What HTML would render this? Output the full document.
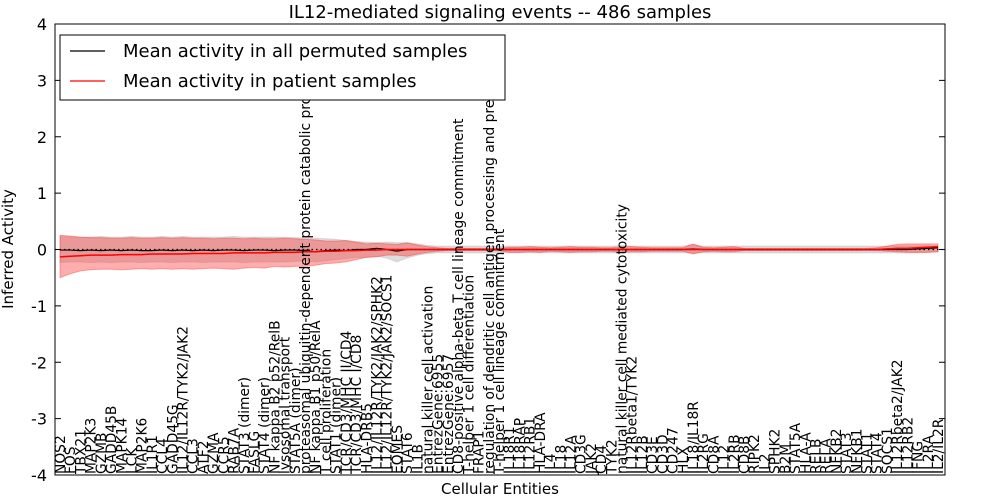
<!DOCTYPE html>
<html><head><meta charset="utf-8"><style>
body{margin:0;background:#fff}
svg{display:block;font-family:"DejaVu Sans","Liberation Sans",sans-serif}
</style></head><body>
<svg id="chart" width="1000" height="500">
<rect width="1000" height="500" fill="#fff"/>
<text x="500" y="18" text-anchor="middle" font-size="18">IL12-mediated signaling events -- 486 samples</text>
<g id="bands"></g>
<g id="lines"></g>
<g id="xlabels"></g>
<rect x="55" y="24" width="890" height="451" fill="none" stroke="#000" stroke-width="1"/>
<g id="yticks"></g>
<text x="500" y="494" text-anchor="middle" font-size="15">Cellular Entities</text>
<text transform="translate(13,249) rotate(-90)" text-anchor="middle" font-size="15">Inferred Activity</text>
<g>
<rect x="60" y="35" width="445" height="65" fill="#fff" stroke="#000" stroke-width="1"/>
<line x1="70" y1="51" x2="105" y2="51" stroke="#000" stroke-width="1.2"/>
<text x="123" y="57" font-size="18">Mean activity in all permuted samples</text>
<line x1="70" y1="81" x2="105" y2="81" stroke="#f00" stroke-width="1.2"/>
<text x="123" y="87" font-size="18">Mean activity in patient samples</text>
</g>
</svg>
<script>
const categories=["NOS2","FOS","TBX21","MAP2K3","GZMB","GADD45B","MAPK14","LCK","MAP2K6","IL1R1","CCL4","GADD45G","IL12/IL12R/TYK2/JAK2","CCL3","ATF2","GZMA","CCR5","RAB7A","STAT3 (dimer)","FASLG","STAT4 (dimer)","NF kappa B2 p52/RelB","lysosomal transport","STAT5A (dimer)","proteasomal ubiquitin-dependent protein catabolic pro","NF kappa B1 p50/RelA","T cell proliferation","STAT1 (dimer)","TCR/CD3/MHC II/CD4","TCR/CD3/MHC I/CD8","HLA-DRB5","IL12/IL12R/TYK2/JAK2/SPHK2","IL12/IL12R/TYK2/JAK2/SOCS1","EOMES","STAT6","IL1B","natural killer cell activation","EntrezGene:6955","EntrezGene:6957","CD8-positive alpha-beta T cell lineage commitment","T-helper 1 cell differentiation","FRAP1","regulation of dendritic cell antigen processing and pre","T-helper 1 cell lineage commitment","IL18R1","IL18RAP","IL12RB1","HLA-DRA","IL4","IL18","IL12A","CD3G","JAK2","CD4","TYK2","natural killer cell mediated cytotoxicity","IL12Rbeta1/TYK2","IL12B","CD3E","CD3D","CD247","HLX","IL18/IL18R","IL2RG","CD8A","IL12","IL2RB","CD8B","RIPK2","IL2","SPHK2","B2M","STAT5A","HLA-A","RELB","RELA","NFKB2","STAT3","NFKB1","STAT1","STAT4","SOCS1","IL12Rbeta2/JAK2","IL12RB2","IFNG","IL2RA","IL2/IL2R"];
const patientMean=[-0.13,-0.12,-0.11,-0.1,-0.1,-0.1,-0.09,-0.09,-0.09,-0.08,-0.08,-0.08,-0.08,-0.07,-0.07,-0.07,-0.07,-0.06,-0.06,-0.06,-0.06,-0.05,-0.05,-0.05,-0.04,-0.04,-0.03,-0.03,-0.02,-0.02,-0.01,-0.01,0,0,0,0,0,0,0,0,0,0,0,0,0,0,0,0,0,0,0,0,0,0,0,0,0,0,0,0,0,0,0,0,0,0,0,0,0,0,0,0,0,0,0,0,0,0,0,0,0,0.01,0.02,0.02,0.03,0.04,0.05];
const patientUpper=[0.25,0.24,0.22,0.21,0.21,0.2,0.2,0.21,0.2,0.2,0.21,0.2,0.21,0.2,0.2,0.19,0.2,0.2,0.19,0.2,0.19,0.19,0.2,0.19,0.18,0.17,0.15,0.15,0.16,0.13,0.1,0.11,0.1,0.09,0.12,0.08,0.05,0.03,0.02,0.02,0.02,0.02,0.02,0.02,0.04,0.04,0.05,0.04,0.03,0.04,0.05,0.04,0.04,0.03,0.03,0.05,0.05,0.04,0.03,0.03,0.03,0.03,0.1,0.04,0.03,0.04,0.05,0.02,0.02,0.02,0.02,0.02,0.02,0.02,0.02,0.02,0.02,0.02,0.02,0.02,0.03,0.06,0.09,0.1,0.1,0.1,0.1];
const patientLower=[-0.5,-0.43,-0.38,-0.36,-0.35,-0.35,-0.36,-0.35,-0.34,-0.35,-0.34,-0.35,-0.34,-0.35,-0.34,-0.33,-0.34,-0.35,-0.33,-0.32,-0.33,-0.3,-0.31,-0.3,-0.3,-0.28,-0.25,-0.24,-0.22,-0.18,-0.14,-0.13,-0.1,-0.1,-0.12,-0.08,-0.05,-0.03,-0.02,-0.02,-0.02,-0.02,-0.02,-0.02,-0.05,-0.05,-0.04,-0.05,-0.03,-0.04,-0.05,-0.04,-0.04,-0.03,-0.03,-0.05,-0.04,-0.04,-0.03,-0.03,-0.03,-0.03,-0.08,-0.04,-0.03,-0.04,-0.04,-0.02,-0.02,-0.02,-0.02,-0.02,-0.02,-0.02,-0.02,-0.02,-0.02,-0.02,-0.02,-0.02,-0.02,-0.03,-0.04,-0.05,-0.05,-0.05,-0.04];
const permMean=[-0.01,-0.01,-0.02,-0.01,-0.02,-0.01,-0.02,-0.01,-0.02,-0.02,-0.01,-0.02,-0.01,-0.02,-0.01,-0.02,-0.01,-0.01,-0.02,-0.01,-0.01,-0.02,-0.01,-0.01,-0.02,-0.04,-0.02,-0.01,-0.02,0,0,0.02,0,-0.03,0,0,0,0,0,0,0,0,0,0,0,0,0,0,0,0,0,0,0,0,0,0,0,0,0,0,0,0,0.01,0,0,0,0,0,0,0,0,0,0,0,0,0,0,0,0,0,0,0,0,0,0.01,0.02,0.03];
const permUpper=[0.23,0.22,0.22,0.22,0.23,0.22,0.22,0.23,0.22,0.22,0.23,0.22,0.23,0.22,0.22,0.22,0.22,0.23,0.22,0.22,0.22,0.22,0.22,0.21,0.2,0.2,0.19,0.18,0.16,0.14,0.13,0.12,0.13,0.12,0.12,0.1,0.07,0.06,0.06,0.06,0.06,0.06,0.06,0.06,0.06,0.06,0.06,0.06,0.06,0.06,0.06,0.06,0.06,0.06,0.06,0.07,0.06,0.06,0.06,0.06,0.06,0.06,0.08,0.06,0.06,0.06,0.06,0.06,0.06,0.06,0.06,0.06,0.06,0.06,0.06,0.06,0.06,0.06,0.06,0.06,0.06,0.06,0.06,0.06,0.06,0.06,0.06];
const permLower=[-0.23,-0.22,-0.22,-0.23,-0.22,-0.23,-0.22,-0.22,-0.23,-0.22,-0.22,-0.23,-0.22,-0.22,-0.23,-0.22,-0.22,-0.22,-0.23,-0.22,-0.22,-0.22,-0.22,-0.21,-0.2,-0.22,-0.2,-0.18,-0.16,-0.14,-0.14,-0.12,-0.15,-0.22,-0.15,-0.1,-0.07,-0.06,-0.06,-0.06,-0.06,-0.06,-0.06,-0.06,-0.06,-0.06,-0.06,-0.06,-0.06,-0.06,-0.06,-0.06,-0.06,-0.06,-0.06,-0.06,-0.06,-0.06,-0.06,-0.06,-0.06,-0.06,-0.06,-0.06,-0.06,-0.06,-0.06,-0.06,-0.06,-0.06,-0.06,-0.06,-0.06,-0.06,-0.06,-0.06,-0.06,-0.06,-0.06,-0.06,-0.06,-0.06,-0.06,-0.06,-0.06,-0.05,-0.04];
const yTicks=[-4,-3,-2,-1,0,1,2,3,4];

const NS="http://www.w3.org/2000/svg";
const X0=60,X1=938,YT=24,YB=475,YMIN=-4,YMAX=4;
const xs=i=>X0+i*(X1-X0)/(categories.length-1);
const ys=v=>YB-(v-YMIN)/(YMAX-YMIN)*(YB-YT);
function mk(tag,attrs,parent){const e=document.createElementNS(NS,tag);for(const k in attrs)e.setAttribute(k,attrs[k]);parent.appendChild(e);return e;}
function band(up,lo){let d="M"+up.map((v,i)=>xs(i)+","+ys(v)).join("L");for(let i=lo.length-1;i>=0;i--)d+="L"+xs(i)+","+ys(lo[i]);return d+"Z";}
function line(arr){return "M"+arr.map((v,i)=>xs(i)+","+ys(v)).join("L");}
const gb=document.getElementById("bands"),gl=document.getElementById("lines"),gx=document.getElementById("xlabels"),gy=document.getElementById("yticks");
let e=mk("path",{d:band(permUpper,permLower),fill:"#bbb","fill-opacity":"0.5",stroke:"#bbb","stroke-opacity":"0.5"},gb);


e=mk("path",{d:band(patientUpper,patientLower),fill:"#f33","fill-opacity":"0.4",stroke:"#f33","stroke-opacity":"0.4"},gb);


e=mk("line",{x1:55,x2:945,y1:ys(0),y2:ys(0),stroke:"#000","stroke-dasharray":"1.5,3","stroke-width":1.2},gl);


e=mk("path",{d:line(permMean),fill:"none",stroke:"#000","stroke-width":1.2},gl);


e=mk("path",{d:line(patientMean),fill:"none",stroke:"#f00","stroke-width":1.5},gl);


categories.forEach((c,i)=>{
  const t=mk("text",{transform:`translate(${xs(i)+5},${YB-1}) rotate(-90)`,"font-size":"13.8"},gx);
  t.textContent=c;
  
  
});
yTicks.forEach(v=>{
  const y=ys(v);
  let l=mk("line",{x1:55,x2:61,y1:y,y2:y,stroke:"#000"},gy);
  
  
  l=mk("line",{x1:939,x2:945,y1:y,y2:y,stroke:"#000"},gy);
  
  
  const t=mk("text",{x:47,y:y+6,"text-anchor":"end","font-size":"16"},gy);
  t.textContent=v;
  
  
});
</script>
</body></html>
